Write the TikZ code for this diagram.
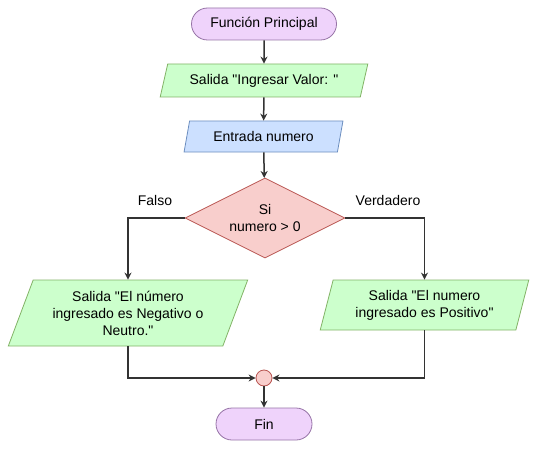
\documentclass[tikz,border=0pt]{standalone}
\usepackage{fontspec}
\setmainfont{Liberation Sans}[Ligatures=TeXOff]
\usepackage{xcolor}
\usetikzlibrary{shapes.geometric,arrows.meta}

\definecolor{termfill}{HTML}{EFD3FB}
\definecolor{termdraw}{HTML}{9673A6}
\definecolor{outfill}{HTML}{CCFFCC}
\definecolor{outdraw}{HTML}{82B366}
\definecolor{infill}{HTML}{CCE0FF}
\definecolor{indraw}{HTML}{6C8EBF}
\definecolor{decfill}{HTML}{F8CECC}
\definecolor{decdraw}{HTML}{B85450}
\definecolor{linecol}{HTML}{333333}

\tikzset{
  every node/.style={font=\fontsize{14}{17}\selectfont, text=black},
  term/.style={draw=termdraw, fill=termfill, rounded corners=16pt, minimum width=145pt, minimum height=32pt, line width=0.8pt},
  iobox/.style={trapezium, trapezium stretches=true, draw, line width=0.8pt, align=center, inner sep=0pt},
  outbox/.style={iobox, draw=outdraw, fill=outfill},
  inbox/.style={iobox, draw=indraw, fill=infill},
  decbox/.style={diamond, draw=decdraw, fill=decfill, aspect=2, minimum width=160pt, minimum height=80pt, inner sep=0pt, align=center, line width=0.8pt},
  flow/.style={draw=linecol, line width=1.5pt, -{Stealth[length=7pt,width=7pt]}}
}

\begin{document}
\begin{tikzpicture}[x=1pt,y=-1pt]
\useasboundingbox (0,0) rectangle (537,449);
% shapes
\node[term] (inicio) at (264,24) {Función Principal};
\node[outbox, trapezium left angle=66, trapezium right angle=114, minimum width=208pt, minimum height=33pt] (pedir) at (264,80.5) {Salida "Ingresar Valor: "};
\node[inbox, trapezium left angle=70, trapezium right angle=110, minimum width=159pt, minimum height=31pt] (leer) at (263.5,136.5) {Entrada numero};
\node[decbox] (cond) at (265,218) {Si\\numero > 0};
\node[outbox, trapezium left angle=66, trapezium right angle=114, minimum width=240pt, minimum height=66pt] (neg) at (128,313) {Salida "El número\\ingresado es Negativo o\\Neutro."};
\node[outbox, trapezium left angle=72, trapezium right angle=108, minimum width=209pt, minimum height=50pt] (pos) at (424.5,305) {Salida "El numero\\ingresado es Positivo"};
\node[circle, draw=decdraw, fill=decfill, minimum size=16pt, inner sep=0pt, line width=0.8pt] (union) at (264,378) {};
\node[term, minimum width=96pt] (fin) at (264,424) {Fin};
% labels
\node (falso) at (155,200) {Falso};
\node (verdad) at (388,200) {Verdadero};
% connectors
\draw[flow] (inicio) -- (pedir);
\draw[flow] (pedir) -- (leer);
\draw[flow] (leer) -- (cond);
\draw[flow] (cond.west) -| (neg.north);
\draw[flow] (cond.east) -| (pos.north);
\draw[flow] (neg.south) |- (union.west);
\draw[flow] (pos.south) |- (union.east);
\draw[flow] (union) -- (fin);
\end{tikzpicture}
\end{document}
